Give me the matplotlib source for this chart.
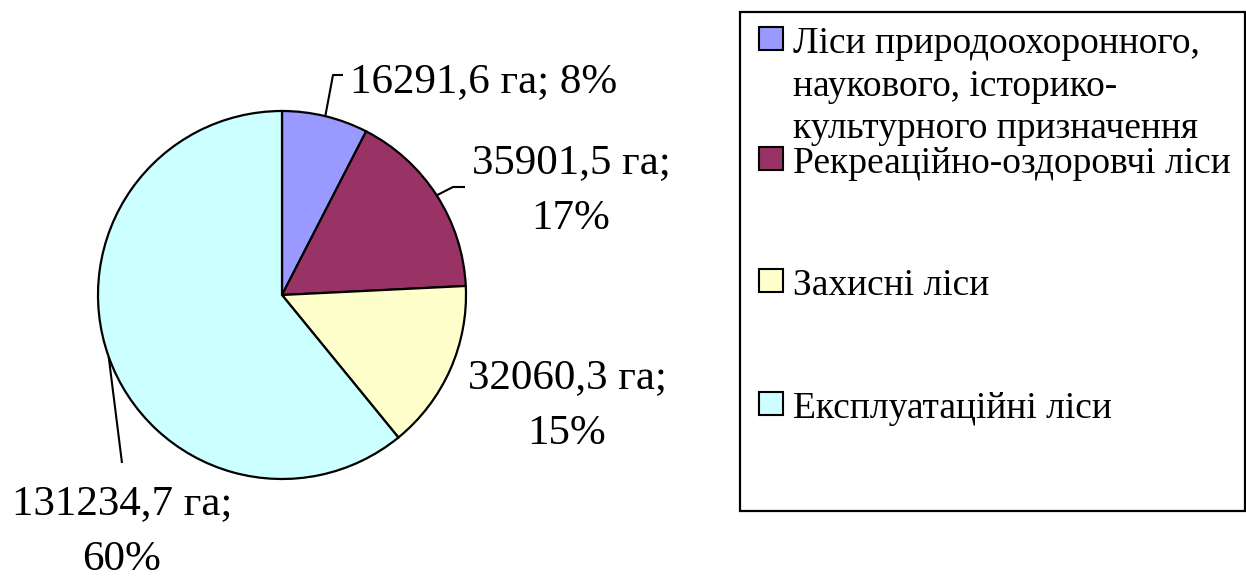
import numpy as np
import matplotlib
matplotlib.use("Agg")
import matplotlib.pyplot as plt
from matplotlib.patches import Rectangle

# data
names = ["Ліси природоохоронного,\nнаукового, історико-\nкультурного призначення",
         "Рекреаційно-оздоровчі ліси",
         "Захисні ліси",
         "Експлуатаційні ліси"]
areas = [16291.6, 35901.5, 32060.3, 131234.7]
pct_labels = ["8%", "17%", "15%", "60%"]
colors = ["#9999FF", "#993366", "#FFFFCC", "#CCFFFF"]

W, H = 1246, 577
plt.rcParams['font.family'] = ['Liberation Serif', 'DejaVu Serif']

fig = plt.figure(figsize=(W / 100, H / 100), dpi=100)
ax = fig.add_axes([0, 0, 1, 1])

cx, cy, R = 282, H - 295, 184
wedges, _ = ax.pie(areas, colors=colors, startangle=90, counterclock=False,
                   center=(cx, cy), radius=R, frame=True,
                   wedgeprops=dict(edgecolor='black', linewidth=1.6))
ax.set_xlim(0, W)
ax.set_ylim(0, H)
ax.set_aspect('equal')
ax.axis('off')

def fmt(v):
    return ("%.1f" % v).replace(".", ",") + " га;"

# label text positions (x, baseline y from top, alignment, one line or two)
lab_pos = [(350, 92, 'left', False), (571, 173, 'center', True),
           (567, 388, 'center', True), (122, 514, 'center', True)]
fs = 31
for i, (x, yb, ha, two) in enumerate(lab_pos):
    if two:
        ax.text(x, H - yb, fmt(areas[i]), fontsize=fs, ha=ha, va='baseline')
        ax.text(x, H - yb - 56, pct_labels[i], fontsize=fs, ha=ha, va='baseline')
    else:
        ax.text(x, H - yb, fmt(areas[i]) + " " + pct_labels[i], fontsize=fs,
                ha=ha, va='baseline')

# leader lines from slice mid-points
leaders = {0: [(333, 75), (343, 75)], 1: [(453, 187), (465, 187)], 3: [(122, 463)]}
for i, pts in leaders.items():
    w = wedges[i]
    th = np.deg2rad((w.theta1 + w.theta2) / 2)
    xs = [cx + R * np.cos(th)] + [p[0] for p in pts]
    ys = [cy + R * np.sin(th)] + [H - p[1] for p in pts]
    ax.plot(xs, ys, color='black', lw=1.5, solid_capstyle='butt')

# legend
ax.add_patch(Rectangle((740, H - 511), 505, 499, fill=False, edgecolor='black', lw=1.6))
leg_base = [53, 173, 295, 418]
lfs = 27
for i, name in enumerate(names):
    yb = leg_base[i]
    ax.add_patch(Rectangle((759, H - yb + 3), 24, 23, facecolor=colors[i],
                           edgecolor='black', lw=1.5))
    for j, line in enumerate(name.split("\n")):
        ax.text(793, H - yb - j * 42.5, line, fontsize=lfs, ha='left', va='baseline')

fig.savefig("out.png", dpi=100)
